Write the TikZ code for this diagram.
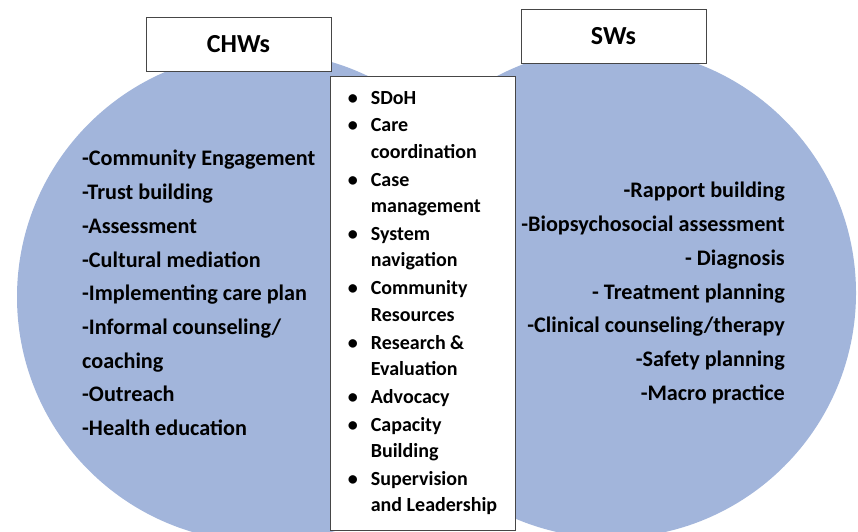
\documentclass[tikz,border=0pt]{standalone}
\usepackage{fontspec}
\setmainfont{Carlito}
\usepackage{xcolor}
\definecolor{vennblue}{RGB}{162,181,219}
\definecolor{boxline}{RGB}{70,70,70}
\tikzset{
  titlebox/.style={draw=boxline, fill=white, line width=0.9pt, minimum width=185pt, minimum height=54pt, inner sep=0pt, font=\fontsize{26}{30}\selectfont\bfseries},
  sharedbox/.style={draw=boxline, fill=white, line width=0.7pt, minimum width=185pt, minimum height=454pt, inner sep=0pt, align=left, font=\fontsize{20}{26.5}\selectfont\bfseries},
  rolelist/.style={inner sep=0pt, font=\fontsize{22.2}{33.7}\selectfont\bfseries}
}
\newcommand{\bul}{\makebox[23pt][l]{\textbullet}}
\newcommand{\cont}{\hspace*{23pt}}

\begin{document}
\begin{tikzpicture}[x=1pt,y=1pt,yscale=-1,xscale=1]
\useasboundingbox (0,0) rectangle (858,531);

%Shape: Circle
\fill[vennblue] (262,297) circle (245);
%Shape: Circle
\fill[vennblue] (611,293) circle (245);

%Shape: Rectangle
\node[sharedbox] (shared) at (422.5,303) {%
\bul SDoH\\[1.3pt]
\bul Care\\
\cont coordination\\[1.3pt]
\bul Case\\
\cont management\\[1.3pt]
\bul System\\
\cont navigation\\[1.3pt]
\bul Community\\
\cont Resources\\[1.3pt]
\bul Research \&\\
\cont Evaluation\\[1.3pt]
\bul Advocacy\\[1.3pt]
\bul Capacity\\
\cont Building\\[1.3pt]
\bul Supervision\\
\cont and Leadership};

% Text Node
\node[titlebox] (chws) at (238.5,44) {CHWs};
% Text Node
\node[titlebox] (sws) at (613.5,36.5) {SWs};

% Text Node
\node[rolelist, align=left, anchor=west] (chwlist) at (82,293) {-Community Engagement\\
-Trust building\\
-Assessment\\
-Cultural mediation\\
-Implementing care plan\\
-Informal counseling/\\
coaching\\
-Outreach\\
-Health education};
% Text Node
\node[rolelist, align=right, anchor=east] (swlist) at (785,293) {-Rapport building\\
-Biopsychosocial assessment\\
- Diagnosis\\
- Treatment planning\\
-Clinical counseling/therapy\\
-Safety planning\\
-Macro practice};

\end{tikzpicture}
\end{document}
